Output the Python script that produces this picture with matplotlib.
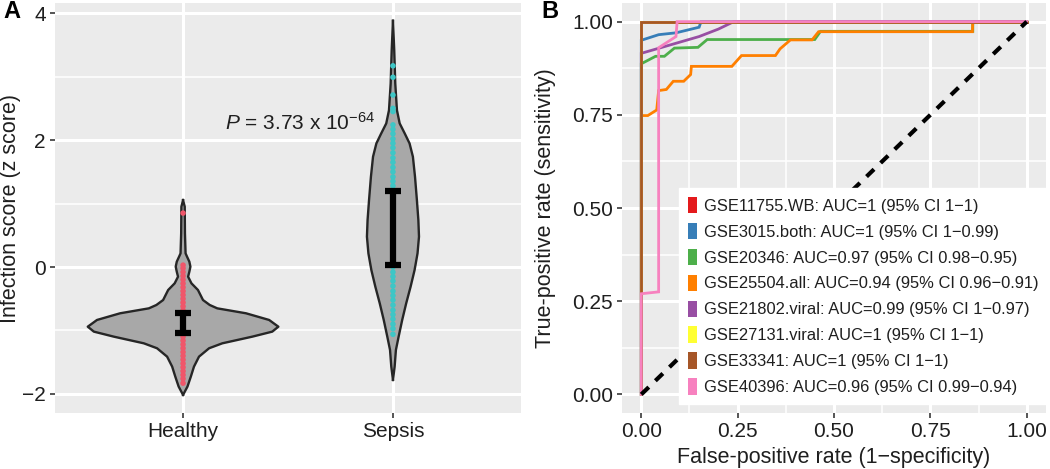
import matplotlib
matplotlib.use("Agg")
import matplotlib.pyplot as plt
from matplotlib.patches import Patch

plt.rcParams["font.family"] = ["Liberation Sans", "DejaVu Sans"]
plt.rcParams["mathtext.fontset"] = "custom"
plt.rcParams["mathtext.rm"] = "Liberation Sans"
plt.rcParams["mathtext.it"] = "Liberation Sans:italic"

# ---- panel A data ----
groups = ["Healthy", "Sepsis"]

# violin outlines: score level and half width
healthy_y = [1.055, 0.95, 0.53, 0.215, 0.163, 0.084, 0.005, -0.073, -0.152, -0.257,
             -0.362, -0.52, -0.598, -0.651, -0.729, -0.834, -0.94, -1.018, -1.097,
             -1.202, -1.28, -1.412, -1.569, -1.727, -1.884, -2.015]
healthy_w = [0, 0.008, 0.009, 0.012, 0.019, 0.03, 0.035, 0.03, 0.024, 0.04,
             0.071, 0.095, 0.127, 0.163, 0.30, 0.41, 0.454, 0.425, 0.33,
             0.187, 0.124, 0.076, 0.052, 0.037, 0.021, 0]
sepsis_y = [3.88, 3.42, 2.89, 2.47, 2.263, 2.105, 1.948, 1.738, 1.423, 1.055, 0.74,
            0.478, 0.215, -0.047, -0.31, -0.572, -0.834, -1.097, -1.307, -1.569, -1.779]
sepsis_w = [0, 0.006, 0.011, 0.019, 0.032, 0.056, 0.079, 0.095, 0.105, 0.114, 0.121,
            0.124, 0.117, 0.103, 0.084, 0.063, 0.044, 0.027, 0.014, 0.008, 0]

healthy_pts = [0.85, 0.03, -0.02, -0.08, -0.14, -0.2, -0.26, -0.32, -0.38, -0.44, -0.5,
               -0.56, -0.62, -0.68, -0.74, -0.8, -0.86, -0.92, -0.98, -1.04, -1.1, -1.16,
               -1.22, -1.28, -1.34, -1.4, -1.46, -1.52, -1.58, -1.64, -1.7, -1.76, -1.83]
sepsis_pts = [3.17, 2.99, 2.71, 2.5, 2.45, 2.24, 2.17, 2.1, 2.02, 1.95, 1.88, 1.8, 1.72,
              1.65, 1.57, 1.5, 1.42, 1.35, 1.28, 1.2, 1.12, 1.05, 0.98, 0.9, 0.82, 0.75,
              0.68, 0.6, 0.52, 0.45, 0.38, 0.3, 0.22, 0.15, 0.08, 0.0, -0.08, -0.15,
              -0.22, -0.3, -0.38, -0.45, -0.52, -0.6, -0.68, -0.75, -0.82, -0.9, -0.97, -1.06]

err_low = [-1.04, 0.03]
err_high = [-0.73, 1.2]
p_text = r"$P$ = 3.73 x 10$^{-64}$"

# ---- panel B data ----
roc_names = ["GSE11755.WB: AUC=1 (95% CI 1\u22121)",
             "GSE3015.both: AUC=1 (95% CI 1\u22120.99)",
             "GSE20346: AUC=0.97 (95% CI 0.98\u22120.95)",
             "GSE25504.all: AUC=0.94 (95% CI 0.96\u22120.91)",
             "GSE21802.viral: AUC=0.99 (95% CI 1\u22120.97)",
             "GSE27131.viral: AUC=1 (95% CI 1\u22121)",
             "GSE33341: AUC=1 (95% CI 1\u22121)",
             "GSE40396: AUC=0.96 (95% CI 0.99\u22120.94)"]
roc_colors = ["#E41A1C", "#377EB8", "#4DAF4A", "#FF7F00",
              "#984EA3", "#FFFF33", "#A65628", "#F781BF"]
fpr_11755 = [0, 0, 1]
tpr_11755 = [0, 1, 1]
fpr_3015 = [0, 0, 0.045, 0.09, 0.15, 0.155, 1]
tpr_3015 = [0, 0.95, 0.965, 0.97, 0.985, 1, 1]
fpr_20346 = [0, 0, 0.037, 0.06, 0.086, 0.147, 0.171, 0.45, 0.465, 0.86, 0.86, 1]
tpr_20346 = [0, 0.887, 0.907, 0.907, 0.929, 0.931, 0.952, 0.952, 0.974, 0.974, 1, 1]
fpr_25504 = [0, 0, 0.017, 0.04, 0.045, 0.065, 0.083, 0.11, 0.128, 0.13, 0.235, 0.26,
             0.348, 0.36, 0.387, 0.443, 0.46, 0.859, 0.86, 1]
tpr_25504 = [0, 0.748, 0.748, 0.763, 0.815, 0.818, 0.84, 0.84, 0.858, 0.88, 0.88, 0.909,
             0.909, 0.927, 0.951, 0.951, 0.973, 0.973, 1, 1]
fpr_21802 = [0, 0, 0.05, 0.1, 0.15, 0.2, 0.24, 1]
tpr_21802 = [0, 0.915, 0.93, 0.945, 0.96, 0.98, 1, 1]
fpr_27131 = [0, 0, 1]
tpr_27131 = [0, 1, 1]
fpr_33341 = [0, 0, 1]
tpr_33341 = [0, 1, 1]
fpr_40396 = [0, 0, 0.045, 0.045, 0.09, 0.093, 1]
tpr_40396 = [0, 0.27, 0.275, 0.93, 0.96, 1, 1]
roc_fpr = [fpr_11755, fpr_3015, fpr_20346, fpr_25504, fpr_21802, fpr_27131, fpr_33341, fpr_40396]
roc_tpr = [tpr_11755, tpr_3015, tpr_20346, tpr_25504, tpr_21802, tpr_27131, tpr_33341, tpr_40396]

panel_bg = "#EBEBEB"
text_col = "#1f1f1f"


def gg_axes(ax):
    ax.set_facecolor(panel_bg)
    for s in ax.spines.values():
        s.set_visible(False)
    ax.grid(which="major", color="white", lw=2.2)
    ax.grid(which="minor", color="white", lw=1.1)
    ax.set_axisbelow(True)
    ax.tick_params(which="major", length=3.5, width=1.4, color="#555555",
                   labelsize=15, labelcolor=text_col, pad=3)
    ax.tick_params(which="minor", length=0)


fig = plt.figure(figsize=(10.5, 4.69), dpi=100)
axA = fig.add_axes([0.0524, 0.1194, 0.4438, 0.8742])
axB = fig.add_axes([0.5924, 0.1194, 0.4038, 0.8742])

# ---- panel A ----
gg_axes(axA)
for i, (vy, vw, pts, col) in enumerate([(healthy_y, healthy_w, healthy_pts, "#F0566A"),
                                         (sepsis_y, sepsis_w, sepsis_pts, "#3EC6C6")]):
    xc = i + 1
    left = [xc - w for w in vw]
    right = [xc + w for w in vw]
    axA.fill_betweenx(vy, left, right, facecolor="#A8A8A8", edgecolor="none", zorder=2)
    axA.plot(left, vy, color="#262626", lw=1.7, zorder=4)
    axA.plot(right, vy, color="#262626", lw=1.7, zorder=4)
    axA.scatter([xc] * len(pts), pts, s=16, color=col, edgecolors="none", zorder=5)
    axA.errorbar([xc], [(err_low[i] + err_high[i]) / 2],
                 yerr=[[(err_high[i] - err_low[i]) / 2]], fmt="none",
                 ecolor="black", elinewidth=4.5, capsize=5.5, capthick=4.5, zorder=6)

axA.text(1.557, 2.27, p_text, fontsize=15, ha="center", va="center", color=text_col)
axA.set_xlim(0.39, 2.61)
axA.set_ylim(-2.3, 4.16)
axA.set_xticks([1, 2])
axA.set_xticklabels(groups)
axA.set_yticks([-2, 0, 2, 4])
axA.set_yticks([-1, 1, 3], minor=True)
axA.set_ylabel("Infection score (z score)", fontsize=15.5, color=text_col)
axA.yaxis.set_label_coords(-0.072, 0.5)

# ---- panel B ----
gg_axes(axB)
for fx, ty, col in zip(roc_fpr, roc_tpr, roc_colors):
    axB.plot(fx, ty, color=col, lw=2.0, zorder=3, solid_joinstyle="miter")
axB.plot([0, 1], [0, 1], color="black", lw=3, dashes=(2.5, 2.2),
         dash_capstyle="butt", zorder=4)
axB.set_xlim(-0.05, 1.05)
axB.set_ylim(-0.05, 1.05)
ticks = [0, 0.25, 0.5, 0.75, 1]
axB.set_xticks(ticks)
axB.set_yticks(ticks)
axB.set_xticklabels(["0.00", "0.25", "0.50", "0.75", "1.00"])
axB.set_yticklabels(["0.00", "0.25", "0.50", "0.75", "1.00"])
axB.set_xticks([0.125, 0.375, 0.625, 0.875], minor=True)
axB.set_yticks([0.125, 0.375, 0.625, 0.875], minor=True)
axB.set_xlabel("False-positive rate (1\u2212specificity)", fontsize=15.5, color=text_col, labelpad=4)
axB.set_ylabel("True-positive rate (sensitivity)", fontsize=15.5, color=text_col)
axB.yaxis.set_label_coords(-0.155, 0.5)

handles = [Patch(facecolor=c, edgecolor="none") for c in roc_colors]
leg = axB.legend(handles, roc_names, loc="upper left", bbox_to_anchor=(0.134, 0.549),
                 fontsize=11.9, handlelength=0.55, handleheight=1.15, handletextpad=0.4,
                 labelspacing=0.55, borderpad=0.55, borderaxespad=0, frameon=True,
                 fancybox=False, facecolor="white", edgecolor="white", framealpha=1)
for t in leg.get_texts():
    t.set_color(text_col)
leg.set_zorder(10)

fig.text(0.003, 0.975, "A", fontsize=17, fontweight="bold", va="center", ha="left")
fig.text(0.516, 0.975, "B", fontsize=17, fontweight="bold", va="center", ha="left")

fig.savefig("out.png", dpi=100)
